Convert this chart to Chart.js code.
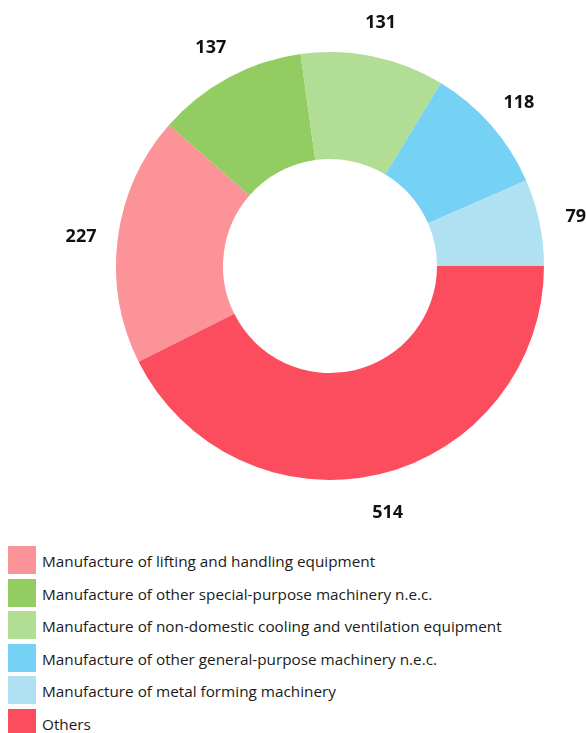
<!DOCTYPE html>
<html>
<head>
<meta charset="utf-8">
<script src="https://cdn.jsdelivr.net/npm/chart.js@4/dist/chart.umd.min.js"></script>
<style>
    body { margin: 0; background: #fff; font-family: "Open Sans", sans-serif; }
    #wrap { position: relative; width: 586px; height: 540px; }
    #legend { margin-top: 6px; }
    .item { display: flex; align-items: center; height: 28px; margin-bottom: 4.6px; padding-left: 8px; }
    .box { width: 28px; height: 28px; margin-right: 6px; flex: none; }
    .txt { font-size: 15.3px; color: #1a1a1a; position: relative; top: 1px; }
</style>
</head>
<body>
<div id="wrap"><canvas id="pie"></canvas></div>
<div id="legend"></div>
<script>
const labels = [
    'Manufacture of lifting and handling equipment',
    'Manufacture of other special-purpose machinery n.e.c.',
    'Manufacture of non-domestic cooling and ventilation equipment',
    'Manufacture of other general-purpose machinery n.e.c.',
    'Manufacture of metal forming machinery',
    'Others'
];
const values = [227, 137, 131, 118, 79, 514];
const colors = ['#FC9398', '#93CC60', '#B1DD95', '#76D2F5', '#AFE1F3', '#FC4D5E'];

const total = values.reduce((a, b) => a + b, 0);
// "Others" ends at 3 o'clock
const rotation = 90 - 360 * (total - values[values.length - 1]) / total;

const outsideLabels = {
    id: 'outsideLabels',
    afterDatasetsDraw(chart) {
        const ctx = chart.ctx;
        const meta = chart.getDatasetMeta(0);
        ctx.save();
        ctx.font = 'bold 18px "Open Sans"';
        ctx.fillStyle = '#111';
        ctx.textAlign = 'center';
        ctx.textBaseline = 'middle';
        meta.data.forEach((arc, i) => {
            const mid = (arc.startAngle + arc.endAngle) / 2;
            const r = arc.outerRadius + 37;
            ctx.fillText(values[i], arc.x + Math.cos(mid) * r, arc.y + Math.sin(mid) * r + 2.5);
        });
        ctx.restore();
    }
};

new Chart(document.getElementById('pie'), {
    type: 'doughnut',
    data: {
        labels: labels,
        datasets: [{
            data: values,
            backgroundColor: colors,
            borderWidth: 0
        }]
    },
    options: {
        responsive: true,
        maintainAspectRatio: false,
        animation: false,
        rotation: rotation,
        cutout: '50%',
        layout: { padding: { top: 52, left: 74, right: 0, bottom: 60 } },
        plugins: {
            legend: { display: false },
            tooltip: { enabled: false }
        }
    },
    plugins: [outsideLabels]
});

const legend = document.getElementById('legend');
labels.forEach((label, i) => {
    const row = document.createElement('div');
    row.className = 'item';
    row.innerHTML = `<span class="box" style="background:${colors[i]}"></span><span class="txt">${label}</span>`;
    legend.appendChild(row);
});
</script>
</body>
</html>
